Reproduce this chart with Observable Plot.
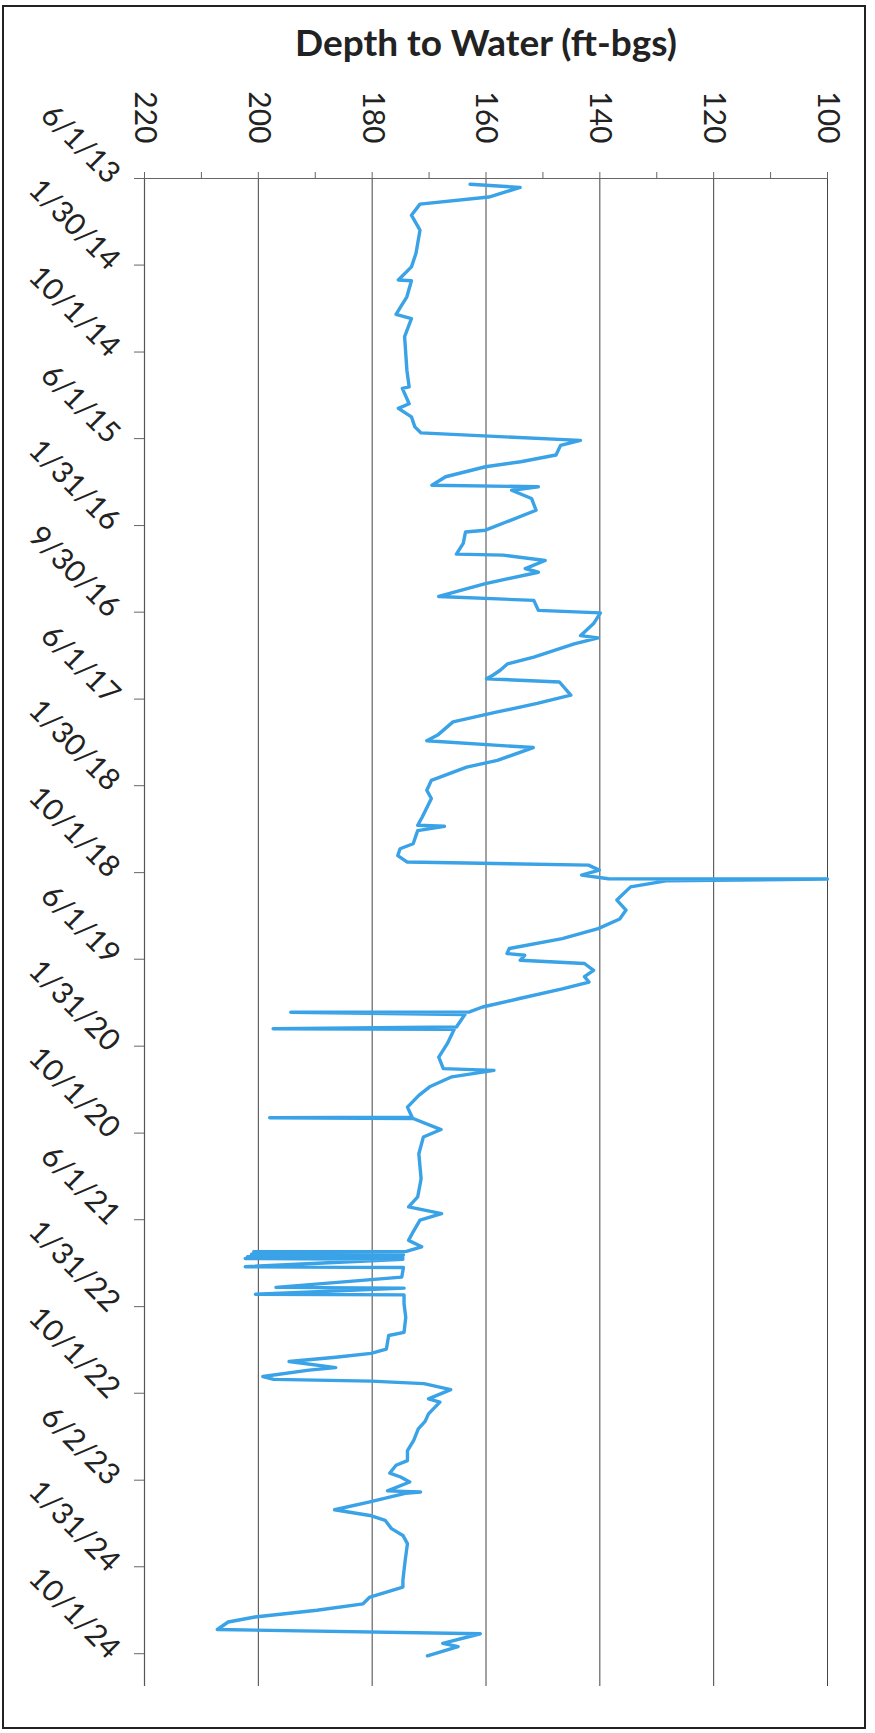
<!DOCTYPE html>
<html><head><meta charset="utf-8">
<script src="https://cdn.jsdelivr.net/npm/d3@7"></script>
<script src="https://cdn.jsdelivr.net/npm/@observablehq/plot@0.6"></script>
<style>
body{margin:0;background:#fff;}
#wrap{position:relative;width:875px;height:1733px;font-family:Lato,"Open Sans",sans-serif;overflow:hidden;}
#frame{position:absolute;left:2px;top:5px;width:864px;height:1724px;border:2px solid #222;box-sizing:border-box;}
#title{position:absolute;left:136px;width:700px;top:19px;text-align:center;font-weight:700;font-size:37px;line-height:46px;color:#222;}
#chart{position:absolute;left:0;top:70px;}
</style></head>
<body>
<div id="wrap"><div id="frame"></div><div id="title">Depth to Water (ft-bgs)</div><div id="chart"></div></div>
<script>
const tickDates = ["2013-06-01","2014-01-30","2014-10-01","2015-06-01","2016-01-31","2016-09-30","2017-06-01","2018-01-30","2018-10-01","2019-06-01","2020-01-31","2020-10-01","2021-06-01","2022-01-31","2022-10-01","2023-06-02","2024-01-31","2024-10-01"];
const tickLabels = ["6/1/13","1/30/14","10/1/14","6/1/15","1/31/16","9/30/16","6/1/17","1/30/18","10/1/18","6/1/19","1/31/20","10/1/20","6/1/21","1/31/22","10/1/22","6/2/23","1/31/24","10/1/24"];
const depthTicks = [220,200,180,160,140,120,100];
const minorDepthTicks = [210,190,170,150,130,110];
const dateDomain = ["2013-06-01","2025-01-01"];

const dates = [
"2013-06-17","2013-06-26","2013-07-23","2013-08-12","2013-09-12","2013-10-24","2013-12-28","2014-02-04","2014-03-13","2014-03-15","2014-04-29","2014-05-27","2014-06-17","2014-06-29","2014-08-19","2014-11-21","2015-01-07","2015-01-11","2015-02-23","2015-03-08","2015-04-01","2015-04-29","2015-05-16",
"2015-06-06","2015-06-20","2015-07-17","2015-08-05","2015-08-19","2015-09-16","2015-10-10","2015-10-14","2015-10-24","2015-11-16","2015-12-19",
"2016-02-13","2016-02-18","2016-03-21","2016-04-20","2016-04-23","2016-05-08","2016-05-31","2016-06-10","2016-07-12","2016-08-17","2016-08-28","2016-09-25","2016-10-02","2016-11-01","2016-12-05","2016-12-11","2016-12-28",
"2017-02-03","2017-02-22","2017-03-12","2017-03-26","2017-04-05","2017-04-14","2017-05-21","2017-06-13","2017-07-07","2017-08-04","2017-09-10","2017-09-26","2017-10-15","2017-11-20","2017-12-09",
"2018-01-15","2018-02-12","2018-03-07","2018-04-28","2018-05-21","2018-05-24","2018-06-05","2018-07-12","2018-07-26","2018-08-14","2018-09-01","2018-09-10","2018-09-24","2018-10-08","2018-10-18","2018-10-19","2018-10-24","2018-11-10","2018-12-17",
"2019-01-14","2019-02-08","2019-03-07","2019-04-04","2019-05-02","2019-05-16","2019-05-21","2019-06-04","2019-06-13","2019-07-02","2019-07-20","2019-08-04","2019-08-23","2019-09-20","2019-10-13","2019-10-27","2019-10-28","2019-11-03","2019-12-08","2019-12-13","2019-12-15",
"2020-01-24","2020-03-02","2020-04-03","2020-04-08","2020-04-26","2020-05-24","2020-06-17","2020-07-20","2020-08-17","2020-08-19","2020-08-21","2020-09-21","2020-10-12","2020-11-28",
"2021-02-06","2021-03-29","2021-04-26","2021-05-15","2021-06-02","2021-07-05","2021-07-29","2021-08-16","2021-08-29","2021-08-30","2021-09-01","2021-09-06","2021-09-08","2021-09-13","2021-09-15","2021-09-18","2021-09-20","2021-10-11","2021-10-13","2021-11-09","2021-12-08","2021-12-10","2021-12-27","2021-12-29",
"2022-01-23","2022-03-02","2022-04-13","2022-04-22","2022-05-30","2022-06-11","2022-06-22","2022-07-04","2022-07-21","2022-07-28","2022-08-15","2022-08-23","2022-08-28","2022-09-04","2022-09-21","2022-10-17","2022-10-26","2022-11-28","2022-12-19",
"2023-01-09","2023-02-10","2023-03-11","2023-04-08","2023-04-21","2023-05-13","2023-05-24","2023-06-07","2023-07-02","2023-07-05","2023-07-09","2023-08-02","2023-08-24","2023-09-09","2023-09-23","2023-10-16","2023-11-04","2023-11-27",
"2024-01-13","2024-03-09","2024-03-28","2024-04-25","2024-05-14","2024-06-01","2024-06-20","2024-07-04","2024-07-25","2024-08-06","2024-09-02","2024-09-11","2024-10-07"
];
const depths = [
162.8,154,159.5,171.6,173.1,171.6,172.3,173.1,175.4,173.1,173.9,175,175.8,173.1,174.3,173.9,173.5,174.7,173.5,175.4,173.1,172.5,171.4,
143.4,146.9,147.7,153.9,160.1,167.1,169.5,150.8,155.5,152,151.2,
160.1,163.6,164,165.2,157,149.6,153.1,150.8,160.1,168.3,151.6,150.8,139.9,141.1,143.4,140.3,144.5,
151.6,156.2,157.5,158.8,159.9,147.1,145.1,151,158,165.8,168.5,170.4,151.7,158,163.4,
169.6,170.4,169.6,171.2,172,167.3,172,172.8,175.1,175.5,173.9,142,140.1,143.2,138.5,100,128.4,134.6,137,
135.4,136.5,140.3,146.6,155.9,156.3,153.2,154,142.7,141.1,142.7,141.9,146.6,154.3,160.6,162.9,194.3,163.7,165.2,197.4,165.6,
166.8,168.3,167.5,158.6,166,169.9,171.8,173.8,173,198,172.8,167.9,171,171.8,
171.4,172,173.6,167.8,171.6,172.8,173.6,171.3,174,200.8,174.5,201.2,174.5,201.9,174.6,202.3,174.6,202.3,174.5,174.8,196.9,174.4,200.5,174.4,
174.4,174.1,174.4,177.1,177.5,180.2,186.4,194.6,186.4,191.1,199.2,197.3,180.2,170.9,166.2,170.1,168.1,170.1,170.7,
171.9,172.7,173.8,173.8,175.8,176.9,175,173.4,177.3,171.5,174.2,180.4,186.6,180.4,177.7,176.6,174.6,173.8,
174.2,174.6,174.6,180.4,181.6,189.7,200.6,205.3,207.2,161,167.6,164.9,170.3
];

const parse = s => new Date(s + "T00:00:00Z");
const data = dates.map((d, i) => ({date: parse(d), depth: depths[i]}));
const ticks = tickDates.map(parse);
const labelOf = new Map(ticks.map((t, i) => [+t, tickLabels[i]]));
const domain = dateDomain.map(parse);

const chart = Plot.plot({
  width: 875,
  height: 1646,
  marginTop: 108,
  marginLeft: 144,
  marginRight: 48,
  marginBottom: 30,
  style: {fontFamily: "Lato, 'Open Sans', sans-serif", background: "transparent"},
  x: {domain: [220, 100], label: null},
  y: {type: "utc", domain: domain, reverse: true, label: null},
  marks: [
    Plot.gridX(depthTicks, {stroke: "#444", strokeOpacity: 1, strokeWidth: 1}),
    Plot.ruleY([domain[0]], {stroke: "#666", strokeWidth: 1.2}),
    Plot.ruleX([220], {stroke: "#555", strokeWidth: 1.2}),
    Plot.axisX(minorDepthTicks, {anchor: "top", tickSize: 7, tickFormat: () => "", stroke: "#666", label: null}),
    Plot.axisX(depthTicks, {anchor: "top", tickSize: 7, tickPadding: 28, tickRotate: 90, textAnchor: "end", lineAnchor: "middle", fontSize: 30, fill: "#222", stroke: "#666", label: null, tickFormat: d => String(d)}),
    Plot.axisY(ticks, {anchor: "left", tickSize: 10, tickPadding: 20, tickRotate: 45, textAnchor: "end", lineAnchor: "middle", fontSize: 30, fill: "#222", stroke: "#666", label: null, tickFormat: d => labelOf.get(+d)}),
    Plot.line(data, {x: "depth", y: "date", stroke: "#3AA2E6", strokeWidth: 3.4, strokeLinejoin: "round"})
  ]
});
document.getElementById("chart").appendChild(chart);
</script>
</body></html>
